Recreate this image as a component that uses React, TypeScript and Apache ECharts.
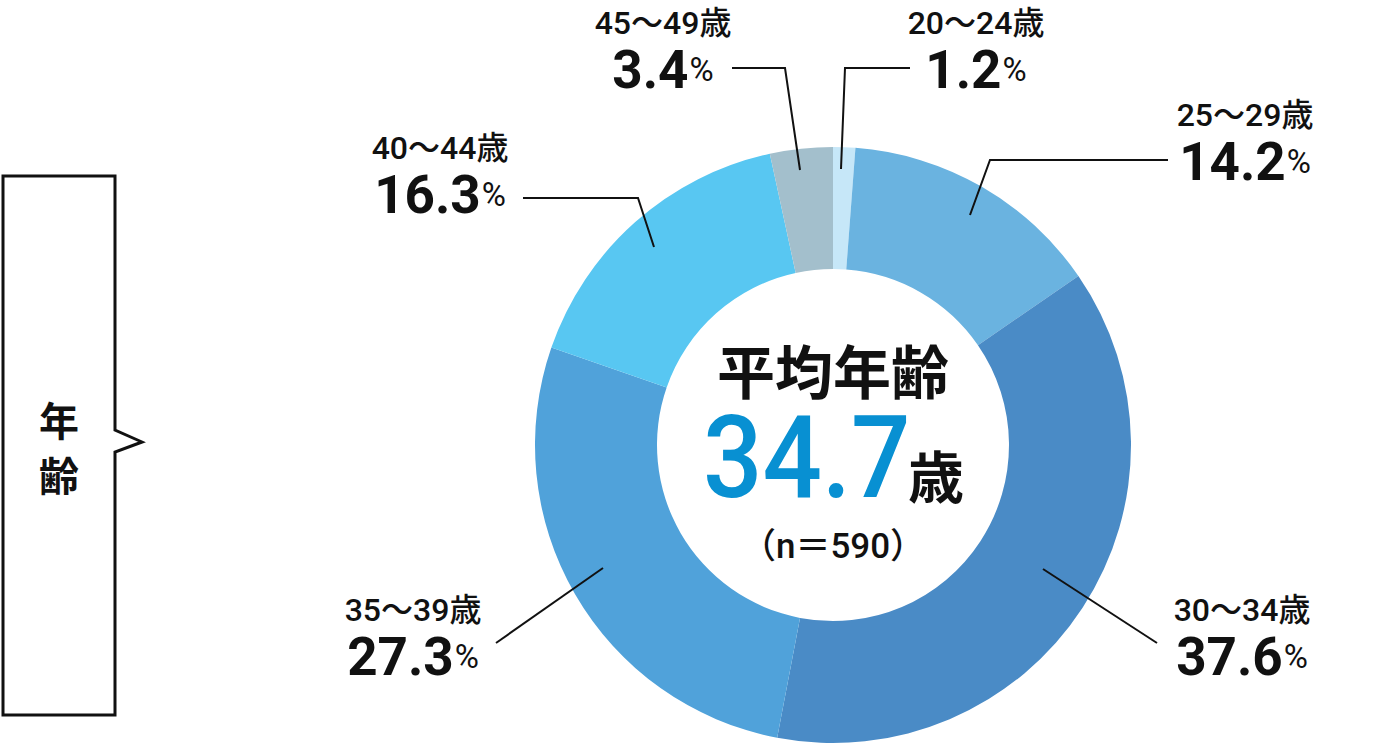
import React, { useEffect, useRef } from "react";
import * as echarts from "echarts";

const categories = ["20～24歳", "25～29歳", "30～34歳", "35～39歳", "40～44歳", "45～49歳"];
const values = [1.2, 14.2, 37.6, 27.3, 16.3, 3.4];
const colors = ["#c6e7f8", "#6ab3e0", "#4a8bc6", "#50a2da", "#58c7f2", "#a3bfcc"];

const centerTitle = "平均年齢";
const averageAge = "34.7";
const ageUnit = "歳";
const sampleText = "（n＝590）";
const sideLabel = ["年", "齢"];

// label placement (block centre x, block top y) and leader-line points
const labelPos: [number, number][] = [
  [976, 2],
  [1245, 94],
  [1242, 589],
  [413, 589],
  [440, 127],
  [663, 2],
];
const leaderLines: number[][][] = [
  [[841, 169], [845, 68], [910, 68]],
  [[970, 215], [990, 160], [1168, 160]],
  [[1043, 569], [1157, 643]],
  [[603, 568], [496, 643]],
  [[654, 247], [638, 198], [523, 198]],
  [[800, 170], [785, 68], [732, 68]],
];

const FONT = "Roboto, 'Noto Sans CJK JP', sans-serif";
const CJK = "'Noto Sans CJK JP', sans-serif";

export default function App() {
  const ref = useRef<HTMLDivElement>(null);
  useEffect(() => {
    if (!ref.current) return;
    const chart = echarts.init(ref.current, undefined, { renderer: "svg" });
    chart.setOption({
      animation: false,
      backgroundColor: "#ffffff",
      series: [
        {
          type: "pie",
          center: [833, 445],
          radius: [176, 298],
          startAngle: 90,
          clockwise: true,
          avoidLabelOverlap: false,
          silent: true,
          z: 2,
          data: categories.map((c, i) => ({
            name: c,
            value: values[i],
            itemStyle: { color: colors[i] },
          })),
          label: {
            show: true,
            position: "outside",
            fontFamily: FONT,
            color: "#111111",
            align: "center",
            formatter: (p: any) => `{a|${p.name}}\n{b|${Number(p.value).toFixed(1)}}{c|%}`,
            rich: {
              a: { fontFamily: FONT, fontSize: 32, fontWeight: 500, lineHeight: 42, color: "#111111", align: "center" },
              b: { fontFamily: FONT, fontSize: 53, fontWeight: "bold", lineHeight: 52, verticalAlign: "bottom", color: "#111111" },
              c: {
                fontFamily: FONT,
                fontSize: 33,
                fontWeight: "normal",
                lineHeight: 44,
                verticalAlign: "bottom",
                padding: [0, 0, 10, 1],
                color: "#111111",
              },
            },
          },
          labelLine: { show: false },
          labelLayout: (params: any) => {
            const i = params.dataIndex;
            return {
              x: labelPos[i][0],
              y: labelPos[i][1],
              align: "center",
              verticalAlign: "top",
            };
          },
        },
      ],
      graphic: [
        {
          type: "polygon",
          shape: {
            points: [[3, 176], [115, 176], [115, 430], [142, 442], [115, 452], [115, 715], [3, 715]],
          },
          style: { fill: "#ffffff", stroke: "#111111", lineWidth: 3 },
        },
        {
          type: "text",
          x: 59,
          y: 419,
          style: { text: sideLabel[0], font: `bold 40px ${CJK}`, fill: "#111111", align: "center", verticalAlign: "middle" },
        },
        {
          type: "text",
          x: 59,
          y: 474,
          style: { text: sideLabel[1], font: `bold 40px ${CJK}`, fill: "#111111", align: "center", verticalAlign: "middle" },
        },
        ...leaderLines.map((pts) => ({
          type: "polyline",
          z: 10,
          shape: { points: pts },
          style: { stroke: "#111111", lineWidth: 2, fill: null },
        })),
        {
          type: "text",
          x: 833,
          y: 369,
          style: { text: centerTitle, font: `bold 58px ${CJK}`, fill: "#111111", align: "center", verticalAlign: "middle" },
        },
        {
          type: "text",
          x: 703,
          y: 458,
          scaleX: 0.91,
          style: { text: averageAge, font: `500 115px Roboto, sans-serif`, fill: "#0890d2", align: "left", verticalAlign: "middle" },
        },
        {
          type: "text",
          x: 908,
          y: 473,
          style: { text: ageUnit, font: `bold 56px ${CJK}`, fill: "#111111", align: "left", verticalAlign: "middle" },
        },
        {
          type: "text",
          x: 833,
          y: 546,
          style: { text: sampleText, font: `500 35px ${FONT}`, fill: "#111111", align: "center", verticalAlign: "middle" },
        },
      ],
    });
    return () => chart.dispose();
  }, []);
  return <div ref={ref} style={{ position: "absolute", left: 0, top: 0, width: 1400, height: 747 }} />;
}
